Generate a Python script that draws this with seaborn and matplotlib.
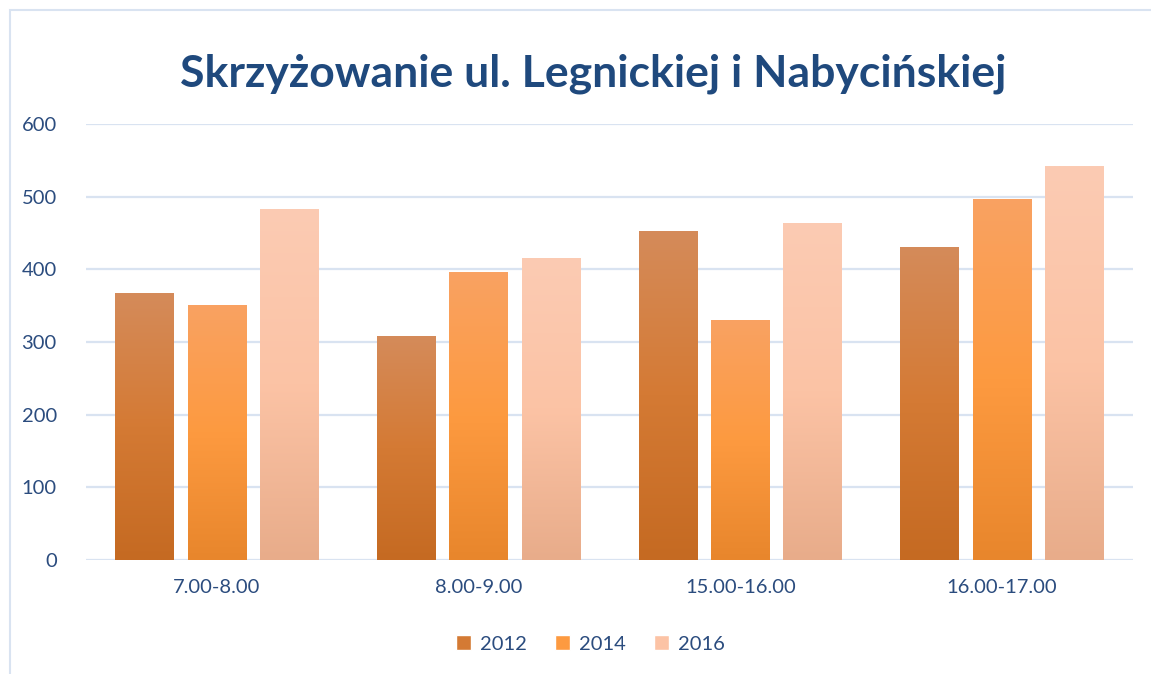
import numpy as np
import pandas as pd
import seaborn as sns
import matplotlib.pyplot as plt
from matplotlib.colors import LinearSegmentedColormap
from matplotlib.patches import Rectangle, Patch

# data
hours = ["7.00-8.00", "8.00-9.00", "15.00-16.00", "16.00-17.00"]
years = ["2012", "2014", "2016"]
v2012 = [367, 308, 453, 431]
v2014 = [351, 396, 330, 497]
v2016 = [483, 416, 464, 542]

df = pd.DataFrame({
    "hour": hours * 3,
    "year": [y for y in years for _ in hours],
    "count": v2012 + v2014 + v2016,
})

# gradient stops per year (top, middle, bottom)
grads = {
    "2012": ["#D58B5A", "#D47A34", "#C56A22"],
    "2014": ["#F9A262", "#FD9A40", "#E8862C"],
    "2016": ["#FBCBB3", "#FCC3A5", "#E8AC8A"],
}
solid = {"2012": "#D47A34", "2014": "#FD9A40", "2016": "#FCC3A5"}

text_col = "#2B4C7E"
title_col = "#1F497D"
grid_col = "#D9E3F1"

sns.set_theme(style="white")
plt.rcParams["font.family"] = ["Lato", "DejaVu Sans"]

fig = plt.figure(figsize=(11.51, 6.74), dpi=100)
ax = fig.add_axes([86 / 1151, 1 - 560 / 674, (1133 - 86) / 1151, (560 - 124) / 674])

sns.barplot(data=df, x="hour", y="count", hue="year", order=hours,
            hue_order=years, palette=solid, width=0.83, gap=0.19,
            legend=False, ax=ax, zorder=3)

ax.set_ylim(0, 600)
ax.set_xlim(-0.5, len(hours) - 0.5)
ax.set_yticks(range(0, 601, 100))
ax.yaxis.grid(True, color=grid_col, linewidth=1.6, zorder=0)
ax.set_axisbelow(True)
for s in ax.spines.values():
    s.set_visible(False)
ax.set_xlabel("")
ax.set_ylabel("")
ax.tick_params(axis="both", length=0, labelsize=14.5, labelcolor=text_col)
ax.tick_params(axis="y", pad=21)
ax.tick_params(axis="x", pad=14)

# vertical gradient on each bar
for container, yr in zip(ax.containers, years):
    cmap = LinearSegmentedColormap.from_list(yr, grads[yr][::-1])
    for bar in container:
        x0, y0 = bar.get_x(), bar.get_y()
        w, h = bar.get_width(), bar.get_height()
        grad = np.linspace(0, 1, 256).reshape(-1, 1)
        im = ax.imshow(grad, cmap=cmap, aspect="auto", origin="lower",
                       extent=[x0, x0 + w, y0, y0 + h], zorder=3)
        im.set_clip_path(bar)
        bar.set_alpha(0)
ax.set_xlim(-0.5, len(hours) - 0.5)
ax.set_ylim(0, 600)

fig.text(0.515, 1 - 74 / 674, "Skrzyżowanie ul. Legnickiej i Nabycińskiej",
         ha="center", va="center", fontsize=32, fontweight="bold",
         color=title_col)

handles = [Patch(facecolor=solid[y], label=y) for y in years]
fig.legend(handles=handles, loc="center", bbox_to_anchor=(0.513, 1 - 644 / 674),
           ncol=3, frameon=False, fontsize=14.5, labelcolor=text_col,
           handlelength=0.75, handleheight=0.75, columnspacing=1.4,
           handletextpad=0.45)

# chart area border
fig.patches.append(Rectangle((10 / 1151, -0.01), 1.2, 1 - 10 / 674 + 0.01,
                             transform=fig.transFigure, fill=False,
                             edgecolor=grid_col, linewidth=1.5))

fig.savefig("out.png", dpi=100)
